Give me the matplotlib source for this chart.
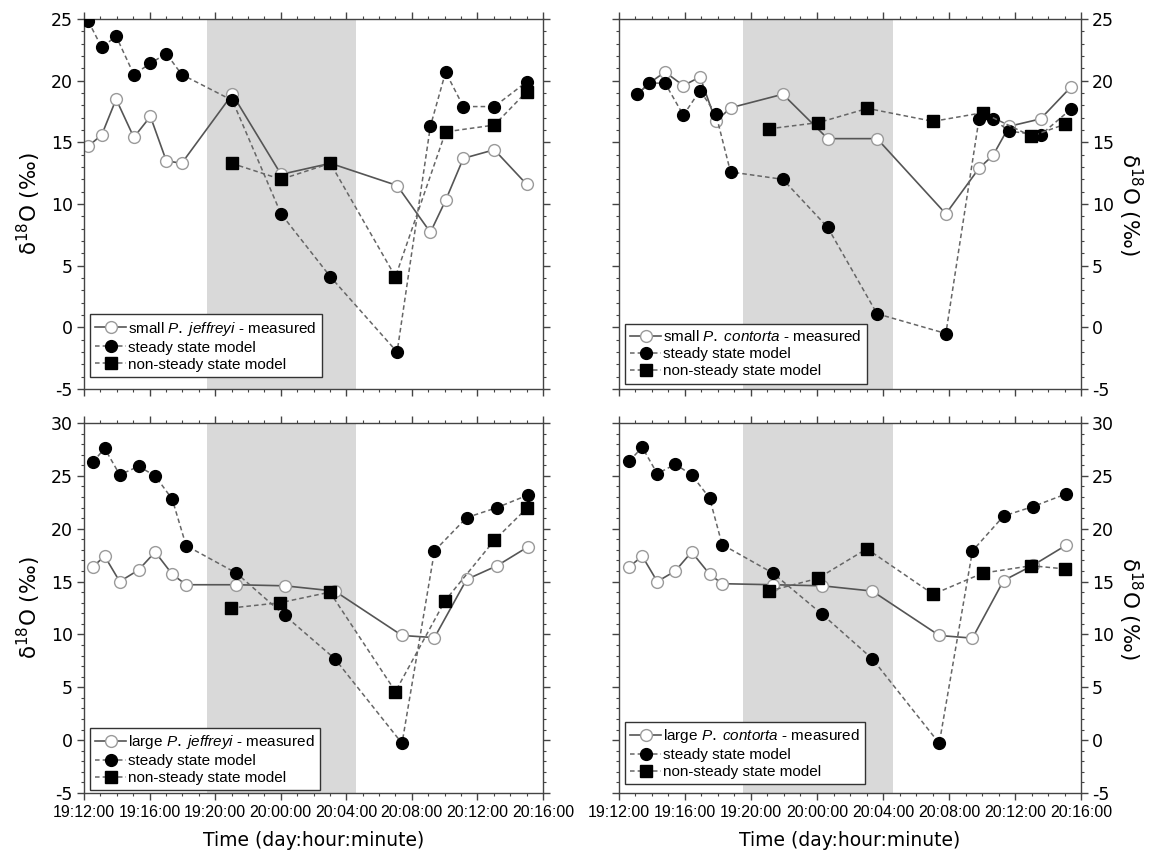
import matplotlib
matplotlib.use("Agg")
import matplotlib.pyplot as plt
from matplotlib.ticker import MultipleLocator

plt.rcParams["mathtext.fontset"] = "custom"
plt.rcParams["mathtext.rm"] = "DejaVu Sans"
plt.rcParams["mathtext.it"] = "Liberation Sans:italic"
plt.rcParams["axes.unicode_minus"] = False

# x axis = hours since 19:12:00 (day:hour:minute)
tick_labels = ["19:12:00", "19:16:00", "19:20:00", "20:00:00",
               "20:04:00", "20:08:00", "20:12:00", "20:16:00"]
night = (7.5, 16.6)

# ---------------- small P. jeffreyi ----------------
x_sj = [0.27, 1.08, 1.96, 3.04, 4.05, 5.02, 5.96, 9.05, 12.02, 15.03,
        19.1, 21.13, 22.06, 23.14, 25.03, 27.0]
meas_sj = [14.7, 15.6, 18.5, 15.4, 17.1, 13.5, 13.3, 18.9, 12.4, 13.3,
           11.5, 7.7, 10.3, 13.7, 14.4, 11.6]
steady_sj = [24.8, 22.7, 23.6, 20.5, 21.4, 22.2, 20.5, 18.4, 9.2, 4.1,
             -2.0, 16.3, 20.7, 17.9, 17.9, 19.9]
x_nss_sj = [9.0, 12.02, 15.03, 19.0, 22.06, 25.03, 27.0]
nss_sj = [13.3, 12.0, 13.3, 4.1, 15.85, 16.4, 19.1]

# ---------------- small P. contorta ----------------
x_sc = [1.12, 1.83, 2.79, 3.9, 4.91, 5.87, 6.76, 9.93, 12.65, 15.64,
        19.81, 21.82, 22.67, 23.65, 25.55, 27.4]
meas_sc = [18.9, 19.8, 20.7, 19.6, 20.3, 16.7, 17.8, 18.9, 15.3, 15.3,
           9.2, 12.9, 13.95, 16.3, 16.9, 19.5]
steady_sc = [18.9, 19.8, 19.8, 17.2, 19.2, 17.3, 12.6, 12.0, 8.1, 1.1,
             -0.5, 16.9, 16.9, 15.9, 15.6, 17.7]
x_nss_sc = [9.1, 12.09, 15.06, 19.03, 22.04, 24.99, 27.0]
nss_sc = [16.1, 16.6, 17.75, 16.7, 17.4, 15.5, 16.45]

# ---------------- large P. jeffreyi ----------------
x_lj = [0.54, 1.26, 2.18, 3.33, 4.34, 5.38, 6.23, 9.3, 12.24, 15.3,
        19.4, 21.38, 23.34, 25.2, 27.1]
meas_lj = [16.4, 17.4, 15.0, 16.1, 17.8, 15.7, 14.7, 14.7, 14.6, 14.1,
           9.9, 9.7, 15.2, 16.5, 18.3]
steady_lj = [26.3, 27.6, 25.1, 25.9, 25.0, 22.8, 18.4, 15.8, 11.8, 7.7,
             -0.3, 17.9, 21.05, 22.0, 23.2]
x_nss_lj = [8.98, 11.97, 15.0, 19.0, 22.03, 25.03, 27.05]
nss_lj = [12.5, 13.0, 14.0, 4.6, 13.2, 18.9, 22.0]

# ---------------- large P. contorta ----------------
x_lc = [0.62, 1.41, 2.32, 3.41, 4.4, 5.49, 6.25, 9.33, 12.32, 15.35,
        19.41, 21.42, 23.31, 25.1, 27.11]
meas_lc = [16.4, 17.4, 15.0, 16.0, 17.8, 15.7, 14.8, 14.7, 14.6, 14.1,
           9.9, 9.65, 15.1, 16.55, 18.45]
steady_lc = [26.4, 27.7, 25.2, 26.1, 25.1, 22.9, 18.5, 15.8, 11.9, 7.7,
             -0.3, 17.9, 21.2, 22.1, 23.3]
x_nss_lc = [9.08, 12.05, 15.02, 19.04, 22.05, 24.99, 27.0]
nss_lc = [14.1, 15.3, 18.1, 13.8, 15.8, 16.5, 16.2]

ylabel = r"$\mathregular{\delta^{18}O}$ (‰)"
dash = (3, 2)


def panel(ax, x, meas, steady, x_nss, nss, name, ymax,
          right=False, bottom=False, leg_y=0.03):
    ax.axvspan(night[0], night[1], color="#d9d9d9", lw=0, zorder=0)

    ax.plot(x, meas, "-", color="#555555", lw=1.2, marker="o", ms=8.5,
            mfc="white", mec="#9a9a9a", mew=1.0, zorder=2,
            label=name + " - measured")
    ax.plot(x, steady, color="#666666", lw=1.1, dashes=dash, marker="o",
            ms=8.5, mfc="black", mec="black", zorder=3,
            label="steady state model")
    ax.plot(x_nss, nss, color="#666666", lw=1.1, dashes=dash, marker="s",
            ms=8, mfc="black", mec="black", zorder=4,
            label="non-steady state model")

    ax.set_xlim(0, 28)
    ax.set_xticks(range(0, 29, 4))
    ax.xaxis.set_minor_locator(MultipleLocator(1))
    ax.set_ylim(-5, ymax)
    ax.yaxis.set_major_locator(MultipleLocator(5))
    ax.yaxis.set_minor_locator(MultipleLocator(1))

    for s in ax.spines.values():
        s.set_color("#444444")
        s.set_linewidth(1.0)
    ax.tick_params(which="both", direction="out", top=True, right=True,
                   left=True, bottom=True, color="#444444")
    ax.tick_params(which="major", length=5, width=1.0)
    ax.tick_params(which="minor", length=2.5, width=0.8)
    ax.tick_params(axis="y", labelsize=12.5, pad=3,
                   labelleft=not right, labelright=right)

    if bottom:
        ax.set_xticklabels(tick_labels, fontfamily="Liberation Sans",
                           fontsize=11.5)
        ax.set_xlabel("Time (day:hour:minute)", fontsize=13.5, labelpad=8)
    else:
        ax.tick_params(axis="x", labelbottom=False)

    if right:
        ax.yaxis.set_label_position("right")
        ax.set_ylabel(ylabel, fontsize=15.5, rotation=270, labelpad=22)
    else:
        ax.set_ylabel(ylabel, fontsize=15.5, labelpad=6)

    leg = ax.legend(loc="lower left", bbox_to_anchor=(0.013, leg_y),
                    prop={"family": "Liberation Sans", "size": 11},
                    frameon=True, fancybox=False, edgecolor="#333333",
                    framealpha=1, borderpad=0.35, labelspacing=0.2,
                    handlelength=2.0, handletextpad=0.15, borderaxespad=0)
    leg.get_frame().set_linewidth(1.0)


fig = plt.figure(figsize=(11.51, 8.51), dpi=100)
W, H = 1151, 851


def add(left, top, right, bottom):
    return fig.add_axes([left / W, 1 - bottom / H,
                         (right - left) / W, (bottom - top) / H])


ax1 = add(84, 19, 543, 389)
ax2 = add(619, 19, 1081, 389)
ax3 = add(84, 423, 543, 793)
ax4 = add(619, 423, 1081, 793)

panel(ax1, x_sj, meas_sj, steady_sj, x_nss_sj, nss_sj,
      r"small $\mathit{P.\;jeffreyi}$", 25, leg_y=0.032)
panel(ax2, x_sc, meas_sc, steady_sc, x_nss_sc, nss_sc,
      r"small $\mathit{P.\;contorta}$", 25, right=True, leg_y=0.014)
panel(ax3, x_lj, meas_lj, steady_lj, x_nss_lj, nss_lj,
      r"large $\mathit{P.\;jeffreyi}$", 30, bottom=True, leg_y=0.007)
panel(ax4, x_lc, meas_lc, steady_lc, x_nss_lc, nss_lc,
      r"large $\mathit{P.\;contorta}$", 30, right=True, bottom=True,
      leg_y=0.023)

fig.savefig("out.png", dpi=100)
